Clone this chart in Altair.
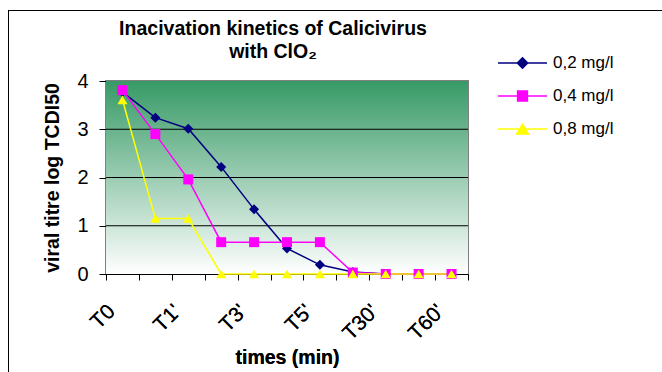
import altair as alt
import pandas as pd

# ---- data ----
times = ["T0", "T0.5'", "T1'", "T2'", "T3'", "T4'", "T5'", "T15'", "T30'", "T45'", "T60'"]
shown_times = ["T0", "T1'", "T3'", "T5'", "T30'", "T60'"]
series = ["0,2 mg/l", "0,4 mg/l", "0,8 mg/l"]
v_02 = [3.77, 3.24, 3.01, 2.22, 1.34, 0.53, 0.19, 0.04, 0.0, 0.0, 0.0]
v_04 = [3.81, 2.90, 1.96, 0.66, 0.66, 0.66, 0.66, 0.03, 0.0, 0.0, 0.0]
v_08 = [3.61, 1.15, 1.15, 0.0, 0.0, 0.0, 0.0, 0.0, 0.0, 0.0, 0.0]
y_ticks = [0, 1, 2, 3, 4]
grid_values = [1, 2, 3]

colors = ["#000080", "#FF00FF", "#FFFF00"]
shapes = ["diamond", "square", "triangle-up"]
legend_shapes = [
    "M-1,0H1M0,-0.21L0.21,0L0,0.21L-0.21,0Z",
    "M-1,0H1M-0.2,-0.2H0.2V0.2H-0.2Z",
    "M-1,0H1M0,-0.2L0.24,0.2H-0.24Z",
]

rows = []
for s, vals in zip(series, [v_02, v_04, v_08]):
    for t, v in zip(times, vals):
        rows.append({"time": t, "series": s, "value": v})
df = pd.DataFrame(rows)
grid_df = pd.DataFrame({"g": grid_values})
bounds_df = pd.DataFrame({"b": list(range(len(times) + 1))})
legend_df = pd.DataFrame({"legend": series})

W, H = 362, 193
FONT = "Liberation Sans"

x_cat = alt.X(
    "time:N",
    sort=times,
    scale=alt.Scale(type="point", padding=0.5),
    axis=alt.Axis(
        orient="bottom",
        values=shown_times, labelAngle=-45, labelAlign="right", labelBaseline="middle",
        labelFontSize=21, labelColor="black", labelPadding=34, labelOffset=-11,
        ticks=False, domainColor="black", domainWidth=1,
        title="times (min)", titleFontSize=19.5, titleFontWeight="bold", titleColor="black",
        titleX=W / 2, titleY=83, titleBaseline="middle", titleAlign="center",
    ),
)
y_axis = alt.Axis(
    values=y_ticks, grid=False, tickSize=7, tickColor="black", domainColor="black",
    labelFontSize=20, labelColor="black", labelPadding=11,
    title="viral titre  log TCDI50", titleFontSize=19.5, titleFontWeight="bold",
    titleColor="black", titleX=-54, titleY=H / 2, titleAlign="center",
    titleBaseline="middle", titleAngle=-90,
)
y_scale = alt.Scale(domain=[0, 4], nice=False, zero=True)
y_val = alt.Y("value:Q", scale=y_scale, axis=y_axis)

gradient = alt.LinearGradient(
    gradient="linear",
    stops=[alt.GradientStop(color="#379a66", offset=0),
           alt.GradientStop(color="#ffffff", offset=1)],
    x1=0, x2=0, y1=0, y2=1,
)
bg = alt.Chart(legend_df).mark_rect(fill=gradient).encode(
    x=alt.value(0), x2=alt.value(W), y=alt.value(0), y2=alt.value(H)
)

grid = alt.Chart(grid_df).mark_rule(color="black", strokeWidth=1).encode(
    y=alt.Y("g:Q", scale=y_scale, axis=y_axis)
)

ticks_layer = alt.Chart(bounds_df).mark_point(opacity=0).encode(
    x=alt.X("b:Q", scale=alt.Scale(domain=[0, len(times)], nice=False, zero=False),
            axis=alt.Axis(orient="bottom", values=list(range(len(times) + 1)), labels=False,
                          ticks=True, tickSize=6, tickColor="black", domain=False,
                          grid=False, title=None)),
    y=alt.value(0),
)

col_scale = alt.Scale(domain=series, range=colors)
lines = alt.Chart(df).mark_line(strokeWidth=1.5).encode(
    x=x_cat, y=y_val,
    color=alt.Color("series:N", scale=col_scale, legend=None),
)
points = alt.Chart(df).mark_point(filled=True, opacity=1, strokeWidth=1).encode(
    x=x_cat, y=y_val,
    color=alt.Color("series:N", scale=col_scale, legend=None),
    shape=alt.Shape("series:N", scale=alt.Scale(domain=series, range=shapes), legend=None),
    size=alt.value(100),
)

leg = alt.Legend(
    orient="none", legendX=391, legendY=-34.5, title=None, symbolSize=2401,
    clipHeight=33, rowPadding=0, padding=0, labelFontSize=17, labelOffset=5,
    symbolStrokeWidth=1.5, symbolOpacity=1, labelColor="black", labelFont=FONT,
)
legend_layer = alt.Chart(legend_df).mark_point(filled=True, opacity=0, strokeWidth=1.5).encode(
    x=alt.value(W / 2), y=alt.value(H / 2),
    fill=alt.Fill("legend:N", scale=alt.Scale(domain=series, range=colors), legend=leg),
    stroke=alt.Stroke("legend:N", scale=alt.Scale(domain=series, range=colors), legend=leg),
    shape=alt.Shape("legend:N", scale=alt.Scale(domain=series, range=legend_shapes), legend=leg),
)

frame_left = alt.Chart(legend_df).mark_rule(color="black", strokeWidth=1).encode(
    x=alt.value(-97.5), y=alt.value(-70.5), y2=alt.value(400)
)
frame_top = alt.Chart(legend_df).mark_rule(color="black", strokeWidth=1).encode(
    x=alt.value(-97.5), x2=alt.value(700), y=alt.value(-70.5)
)

chart = alt.layer(
    bg, grid, ticks_layer, lines, points, legend_layer, frame_left, frame_top
).resolve_scale(
    x="independent", shape="independent", fill="independent", stroke="independent"
).properties(
    width=W, height=H,
    autosize=alt.AutoSizeParams(type="none"),
    padding={"left": 106, "top": 81, "right": 662 - 106 - W, "bottom": 372 - 81 - H},
    title=alt.TitleParams(
        text=["Inacivation kinetics of Calicivirus", "with ClO₂"],
        fontSize=19.5, fontWeight="bold", color="black", font=FONT,
        anchor="middle", dx=-14, lineHeight=23, offset=0, dy=52, frame="group",
    ),
).configure(
    font=FONT, background="white",
).configure_view(
    stroke="#808080", strokeWidth=2,
)

chart.save("out.html", embed_options={"renderer": "svg", "actions": False})
